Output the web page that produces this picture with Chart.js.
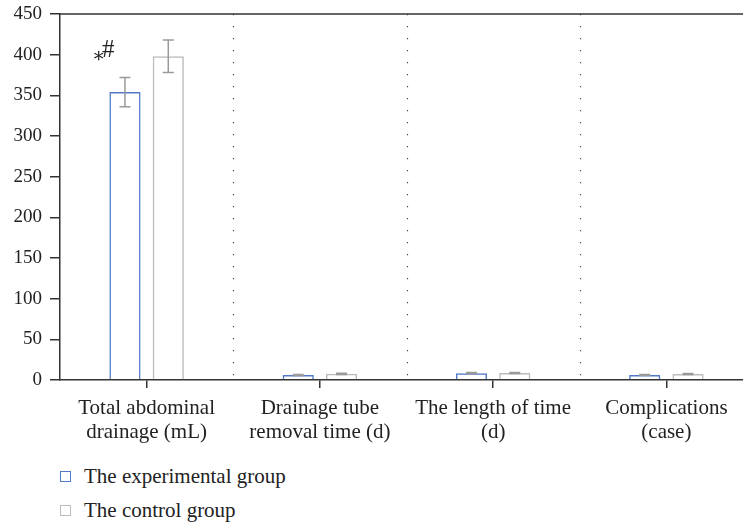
<!DOCTYPE html>
<html>
<head>
<meta charset="utf-8">
<script src="https://cdn.jsdelivr.net/npm/chart.js@4.4.0/dist/chart.umd.min.js"></script>
<style>
  html, body { margin: 0; padding: 0; background: #fff; overflow: hidden; width: 743px; height: 525px; }
  #wrap { position: relative; width: 743px; height: 525px; overflow: hidden; }
  canvas { position: absolute; left: 0; top: 0; }
  .leg { position: absolute; left: 60px; font: 21px "Liberation Serif", "DejaVu Serif", serif; color: #222; display: flex; align-items: center; }
  .leg span.box { display: inline-block; width: 9px; height: 9px; border: 1.5px solid; margin-right: 13px; }
</style>
</head>
<body>
<div id="wrap">
  <canvas id="chart" width="760" height="450"></canvas>
  <div class="leg" style="top:464px"><span class="box" style="border-color:#5278c8"></span>The experimental group</div>
  <div class="leg" style="top:498px"><span class="box" style="border-color:#bcbcbc"></span>The control group</div>
</div>
<script>
const categories = [
  ['Total abdominal', 'drainage (mL)'],
  ['Drainage tube', 'removal time (d)'],
  ['The length of time', '(d)'],
  ['Complications', '(case)']
];
const experimental = [354, 6.1, 8.4, 6.2];
const experimentalErr = [18, 0.6, 0.8, 0.5];
const control = [398, 7.6, 8.6, 7.4];
const controlErr = [20, 0.8, 0.7, 0.6];
const yTicks = [0, 50, 100, 150, 200, 250, 300, 350, 400, 450];

const blue = '#5278c8';
const grey = '#bcbcbc';
const errColor = '#9a9a9a';
const axisColor = '#333';
const font = '"Liberation Serif", "DejaVu Serif", serif';

// error bars, separators, top border and the significance mark
const extras = {
  id: 'extras',
  beforeDatasetsDraw(chart) {
    const { ctx, chartArea, scales } = chart;
    const x = scales.x;
    ctx.save();
    ctx.strokeStyle = '#444';
    ctx.lineWidth = 1.2;
    ctx.setLineDash([1.2, 10.8]);
    for (let i = 0; i < categories.length - 1; i++) {
      const px = Math.round((x.getPixelForValue(i) + x.getPixelForValue(i + 1)) / 2) + 0.5;
      ctx.beginPath();
      ctx.moveTo(px, chartArea.top);
      ctx.lineTo(px, chartArea.bottom);
      ctx.stroke();
    }
    ctx.restore();
  },
  afterDatasetsDraw(chart) {
    const { ctx, chartArea, scales } = chart;
    const y = scales.y;
    const errs = [experimentalErr, controlErr];
    ctx.save();
    ctx.strokeStyle = errColor;
    ctx.lineWidth = 1.5;
    chart.data.datasets.forEach((ds, d) => {
      const meta = chart.getDatasetMeta(d);
      meta.data.forEach((bar, i) => {
        const v = ds.data[i];
        const top = y.getPixelForValue(v + errs[d][i]);
        const bot = y.getPixelForValue(v - errs[d][i]);
        ctx.beginPath();
        ctx.moveTo(bar.x, top); ctx.lineTo(bar.x, bot);
        ctx.moveTo(bar.x - 5.5, top); ctx.lineTo(bar.x + 5.5, top);
        ctx.moveTo(bar.x - 5.5, bot); ctx.lineTo(bar.x + 5.5, bot);
        ctx.stroke();
      });
    });
    // * # over the first experimental bar
    const b0 = chart.getDatasetMeta(0).data[0];
    const yTop = y.getPixelForValue(experimental[0] + experimentalErr[0]);
    ctx.fillStyle = '#222';
    ctx.textAlign = 'left';
    ctx.font = '20px ' + font;
    ctx.fillText('∗', b0.x - 33, yTop - 15);
    ctx.font = '25px ' + font;
    ctx.fillText('#', b0.x - 23, yTop - 20);
    // top frame line
    ctx.strokeStyle = axisColor;
    ctx.lineWidth = 1.5;
    ctx.beginPath();
    ctx.moveTo(chartArea.left, chartArea.top);
    ctx.lineTo(chart.width, chartArea.top);
    ctx.stroke();
    ctx.restore();
  }
};

new Chart(document.getElementById('chart'), {
  type: 'bar',
  data: {
    labels: categories,
    datasets: [
      { label: 'The experimental group', data: experimental, backgroundColor: 'rgba(255,255,255,0)', borderColor: blue, borderWidth: 1.5, categoryPercentage: 0.5, barPercentage: 0.72 },
      { label: 'The control group', data: control, backgroundColor: 'rgba(255,255,255,0)', borderColor: grey, borderWidth: 1.5, categoryPercentage: 0.5, barPercentage: 0.72 }
    ]
  },
  options: {
    responsive: false,
    animation: false,
    layout: { padding: { top: 14, right: 7, left: 0, bottom: 0 } },
    plugins: { legend: { display: false }, tooltip: { enabled: false } },
    scales: {
      x: {
        grid: { drawOnChartArea: false, offset: false, tickLength: 8, color: axisColor, lineWidth: 1.5 },
        border: { color: axisColor, width: 1.5 },
        ticks: { color: '#222', font: { family: font, size: 21, lineHeight: 1.143 }, padding: 8, maxRotation: 0, autoSkip: false },
        afterFit(s) { s.height = 70; }
      },
      y: {
        min: 0, max: 450,
        afterBuildTicks(s) { s.ticks = yTicks.map(v => ({ value: v })); },
        grid: { drawOnChartArea: false, tickLength: 10, color: axisColor, lineWidth: 1.5 },
        border: { color: axisColor, width: 1.5 },
        ticks: { color: '#222', font: { family: font, size: 19 }, padding: 8 },
        afterFit(s) { s.width = 60; s.paddingTop = 0; s.paddingBottom = 0; }
      }
    }
  },
  plugins: [extras]
});
</script>
</body>
</html>
